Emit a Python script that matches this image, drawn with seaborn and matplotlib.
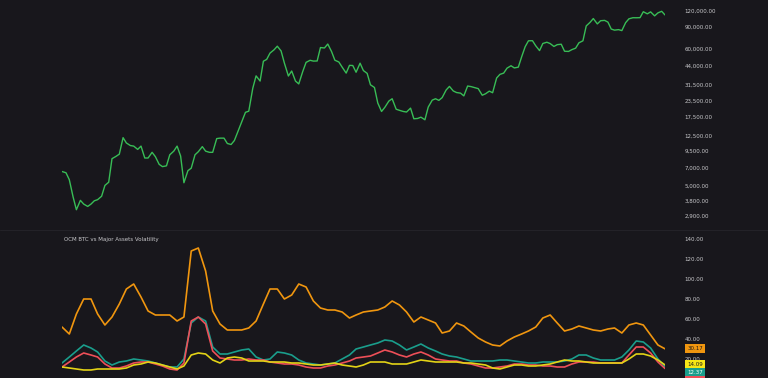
import numpy as np
import pandas as pd
import seaborn as sns
import matplotlib.pyplot as plt
import matplotlib.ticker as mticker

# ---- data ----
# BTC price, 1st and 15th of each month (Oct 15 2018 -> Oct 15 2025)
btc_price = [
    6500, 6350, 5600, 4100, 3250,
    3850, 3600, 3450, 3600, 3820, 3900, 4150, 5050, 5350, 8200, 8550, 8900,
    12000, 10900, 10400, 10300, 9700, 10300, 8300, 8300, 9200, 8500, 7400, 7100,
    7200, 8800, 9400, 10300, 8600, 5300, 6600, 6900, 8800, 9300, 10200, 9400,
    9200, 9200, 11800, 11900, 11900, 10800, 10600, 11400, 13700, 16000, 19000, 19400,
    29400, 36800, 33500, 48000, 49600, 55600, 59000, 63000, 57800, 46400, 36700, 40200,
    33500, 31800, 39900, 47000, 48800, 48100, 48200, 61500, 61000, 65500, 57200, 48900,
    47300, 43100, 38700, 44500, 44400, 39300, 46300, 40500, 38500, 31300, 29800, 22500,
    19300, 20800, 23300, 24300, 20100, 19700, 19300, 19100, 20500, 16900, 17000, 17400,
    16600, 20900, 23700, 24300, 23600, 24800, 28500, 30400, 28000, 27200, 26900, 25600,
    30600, 30300, 29700, 29200, 25900, 26600, 27900, 27100, 35400, 37800, 38700, 42300,
    44200, 42500, 43100, 51900, 62400, 69500, 69600, 63400, 58200, 66200, 67700, 66100,
    62700, 64800, 65300, 57500, 57300, 59200, 60800, 67000, 69500, 91000, 97000, 104000,
    94400, 100000, 100600, 97500, 86000, 84300, 85100, 83600, 96500, 103500, 105600, 105500,
    105700, 117700, 113300, 117400, 109200, 115300, 118600, 111000,
]

# monthly volatility (mid-month, Oct 2018 -> Oct 2025)
vol_btc = [
    52, 45, 65, 80, 80, 65, 54, 62, 75, 90, 95, 82, 68, 64, 64, 64, 58, 62,
    128, 131, 108, 68, 55, 49, 49, 49, 51, 58, 75, 90, 90, 80, 84, 95, 92, 78,
    71, 69, 69, 67, 61, 64, 67, 68, 69, 72, 78, 74, 67, 57, 62, 59, 56, 46,
    48, 56, 53, 47, 41, 37, 34, 33, 38, 42, 45, 48, 52, 61, 64, 56, 48, 50,
    53, 51, 49, 48, 50, 51, 46, 54, 56, 54, 44, 34, 30.17,
]
vol_teal = [
    16, 22, 28, 34, 31, 27, 18, 14, 17, 18, 20, 19, 18, 16, 14, 12, 12, 20,
    56, 62, 58, 32, 25, 25, 27, 29, 30, 22, 19, 20, 27, 26, 24, 19, 16, 15,
    14, 15, 16, 20, 24, 30, 32, 34, 36, 39, 38, 34, 29, 32, 35, 31, 28, 25,
    23, 22, 20, 18, 18, 18, 18, 19, 19, 18, 17, 16, 16, 17, 17, 17, 18, 20,
    24, 24, 21, 19, 19, 19, 22, 29, 38, 37, 31, 20, 12.37,
]
vol_red = [
    12, 17, 22, 26, 24, 22, 15, 11, 11, 13, 16, 17, 17, 15, 13, 10, 9, 16,
    58, 62, 55, 28, 21, 20, 19, 19, 20, 19, 19, 17, 16, 15, 15, 14, 12, 11,
    11, 13, 14, 16, 18, 21, 22, 23, 26, 29, 27, 24, 22, 25, 27, 24, 20, 19,
    18, 18, 16, 15, 13, 11, 11, 12, 13, 15, 15, 14, 14, 13, 13, 12, 12, 15,
    17, 17, 17, 16, 16, 16, 16, 24, 32, 32, 26, 17, 10.52,
]
vol_yellow = [
    12, 11, 10, 9, 9, 10, 10, 10, 10, 11, 14, 15, 17, 16, 14, 12, 10, 13,
    24, 26, 25, 19, 16, 21, 22, 21, 18, 18, 18, 17, 17, 17, 16, 16, 15, 14,
    14, 15, 16, 14, 13, 12, 14, 17, 17, 17, 15, 15, 15, 17, 19, 18, 17, 17,
    17, 17, 16, 16, 15, 14, 11, 10, 12, 14, 14, 13, 13, 14, 15, 17, 19, 18,
    18, 17, 16, 16, 16, 16, 16, 20, 25, 25, 23, 19, 14.09,
]

price_ticks = [2900, 3800, 5000, 7000, 9500, 12500, 17500, 23500, 31500,
               44000, 60000, 90000, 120000]
vol_ticks = [20, 40, 60, 80, 100, 120, 140]

price_dates = pd.date_range("2018-10-15", "2025-10-15", freq="SMS")
vol_dates = pd.date_range("2018-10-01", "2025-10-01", freq="MS") + pd.Timedelta(days=14)

price_df = pd.DataFrame({"date": price_dates, "price": btc_price})
vol_df = pd.DataFrame({"date": vol_dates, "btc": vol_btc, "teal": vol_teal,
                       "red": vol_red, "yellow": vol_yellow})

# ---- style ----
BG = "#18171c"
TXT = "#c9c9cc"
sns.set_style("dark")
plt.rcParams["font.family"] = ["DejaVu Sans"]

fig = plt.figure(figsize=(7.68, 3.78), dpi=100, facecolor=BG)
left = 62 / 768
width = 603 / 768
ax1 = fig.add_axes([left, 1 - 230 / 378, width, 230 / 378])
ax2 = fig.add_axes([left, 0, width, 148 / 378])

for ax in (ax1, ax2):
    ax.set_facecolor(BG)
    ax.grid(False)
    for s in ax.spines.values():
        s.set_visible(False)
    ax.yaxis.tick_right()
    ax.tick_params(axis="y", length=0, pad=14, labelsize=4, labelcolor=TXT)

# price panel
sns.lineplot(data=price_df, x="date", y="price", ax=ax1, color="#38bd56",
             linewidth=1.0)
ax1.set_yscale("log")
ax1.set_ylim(2250, 145600)
ax1.set_yticks(price_ticks)
ax1.yaxis.set_major_formatter(mticker.FuncFormatter(lambda v, p: f"{v:,.2f}"))
ax1.yaxis.set_minor_locator(mticker.NullLocator())
ax1.set_xlim(price_dates[0], price_dates[-1])
ax1.set_xticks([])
ax1.set_xlabel("")
ax1.set_ylabel("")

# separator
fig.add_artist(plt.Line2D([0, 1], [1 - 230 / 378] * 2, color="#26252b",
                          linewidth=0.6))

# volatility panel
series = [("btc", "#f0960f"), ("teal", "#1a9e8c"), ("red", "#ee4f58"),
          ("yellow", "#e3d316")]
for col, c in series:
    sns.lineplot(data=vol_df, x="date", y=col, ax=ax2, color=c, linewidth=1.2)
ax2.set_ylim(1, 149)
ax2.set_yticks(vol_ticks)
ax2.yaxis.set_major_formatter(mticker.FuncFormatter(lambda v, p: f"{v:.2f}"))
ax2.set_xlim(price_dates[0], price_dates[-1])
ax2.set_xticks([])
ax2.set_xlabel("")
ax2.set_ylabel("")
ax2.text(0.003, 1 - 10 / 148, "OCM BTC vs Major Assets Volatility",
         transform=ax2.transAxes, fontsize=4, color=TXT, va="center", ha="left")

# last value boxes, pushed down so they do not overlap
box_style = {"btc": ("#f0960f", "#1a1a1a"), "yellow": ("#f5e616", "#1a1a1a"),
             "teal": ("#1a9e8c", "#ffffff"), "red": ("#ee4f58", "#ffffff")}
last = sorted([(vol_df[c].iloc[-1], c) for c, _ in series], reverse=True)
prev = None
for val, c in last:
    ypos = val if prev is None else min(val, prev - 8)
    prev = ypos
    fc, tc = box_style[c]
    ax2.annotate(f"{val:.2f}", xy=(1, ypos), xycoords=("axes fraction", "data"),
                 xytext=(16, 0), textcoords="offset points", fontsize=4,
                 color=tc, va="center", ha="left", annotation_clip=False,
                 bbox=dict(boxstyle="square,pad=0.35", fc=fc, ec="none"))

fig.savefig("out.png", dpi=100, facecolor=BG)
